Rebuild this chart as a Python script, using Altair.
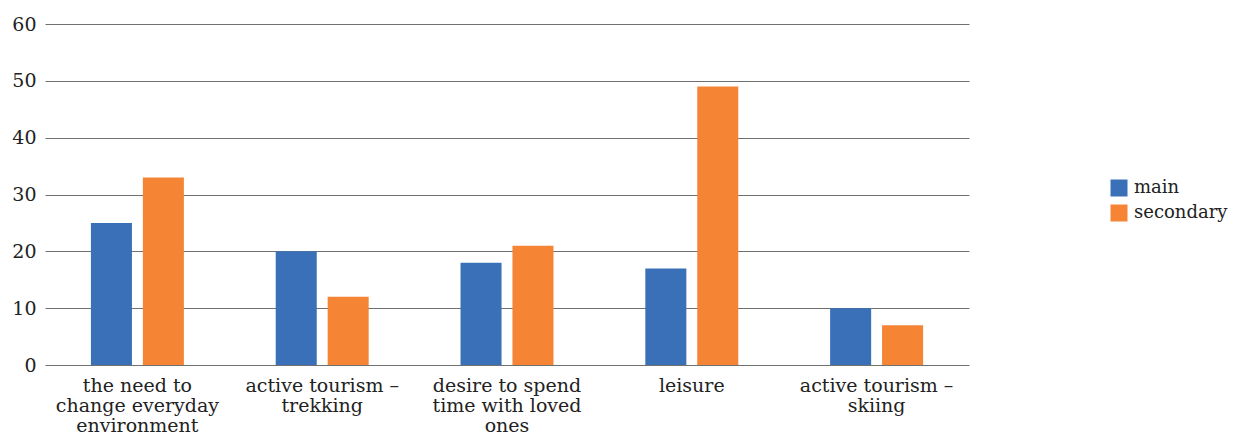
import altair as alt
import pandas as pd

categories = [
    "the need to|change everyday|environment",
    "active tourism –|trekking",
    "desire to spend|time with loved|ones",
    "leisure",
    "active tourism –|skiing",
]
series = ["main", "secondary"]
main_values = [25, 20, 18, 17, 10]
secondary_values = [33, 12, 21, 49, 7]
colors = ["#3a70b8", "#f58534"]

rows = []
for cat, m, s in zip(categories, main_values, secondary_values):
    rows.append({"category": cat, "series": "main", "value": m})
    rows.append({"category": cat, "series": "secondary", "value": s})
df = pd.DataFrame(rows)

FONT = "DejaVu Serif"
FONT_SIZE = 19

chart = (
    alt.Chart(df)
    .mark_bar()
    .encode(
        x=alt.X(
            "category:N",
            sort=categories,
            scale=alt.Scale(paddingInner=0, paddingOuter=0),
            axis=alt.Axis(
                title=None,
                labelAngle=0,
                ticks=False,
                domain=False,
                labelExpr="split(datum.label, '|')",
                labelFont=FONT,
                labelFontSize=FONT_SIZE,
                labelColor="#222222",
                labelPadding=11,
                labelLineHeight=20,
                labelLimit=300,
            ),
        ),
        xOffset=alt.XOffset(
            "series:N",
            sort=series,
            scale=alt.Scale(paddingInner=0.21, paddingOuter=0.884),
        ),
        y=alt.Y(
            "value:Q",
            scale=alt.Scale(domain=[0, 60]),
            axis=alt.Axis(
                title=None,
                values=[0, 10, 20, 30, 40, 50, 60],
                ticks=False,
                domain=False,
                grid=True,
                gridColor="#707070",
                gridWidth=1,
                labelFont=FONT,
                labelFontSize=FONT_SIZE,
                labelColor="#222222",
                labelPadding=9,
            ),
        ),
        color=alt.Color(
            "series:N",
            sort=series,
            scale=alt.Scale(domain=series, range=colors),
            legend=alt.Legend(
                title=None,
                orient="none",
                legendX=1065,
                legendY=155,
                symbolType="square",
                symbolSize=289,
                symbolStrokeWidth=0,
                labelFont=FONT,
                labelFontSize=18,
                labelColor="#222222",
                rowPadding=7,
                labelOffset=6,
            ),
        ),
    )
    .properties(
        width=924,
        height=341,
        autosize=alt.AutoSizeParams(type="none"),
        padding={"left": 45, "top": 24, "right": 264, "bottom": 71},
    )
    .configure_view(stroke=None)
    .configure_axis(gridOpacity=1)
)

chart.save("out.html", embed_options={"renderer": "svg", "actions": False})
